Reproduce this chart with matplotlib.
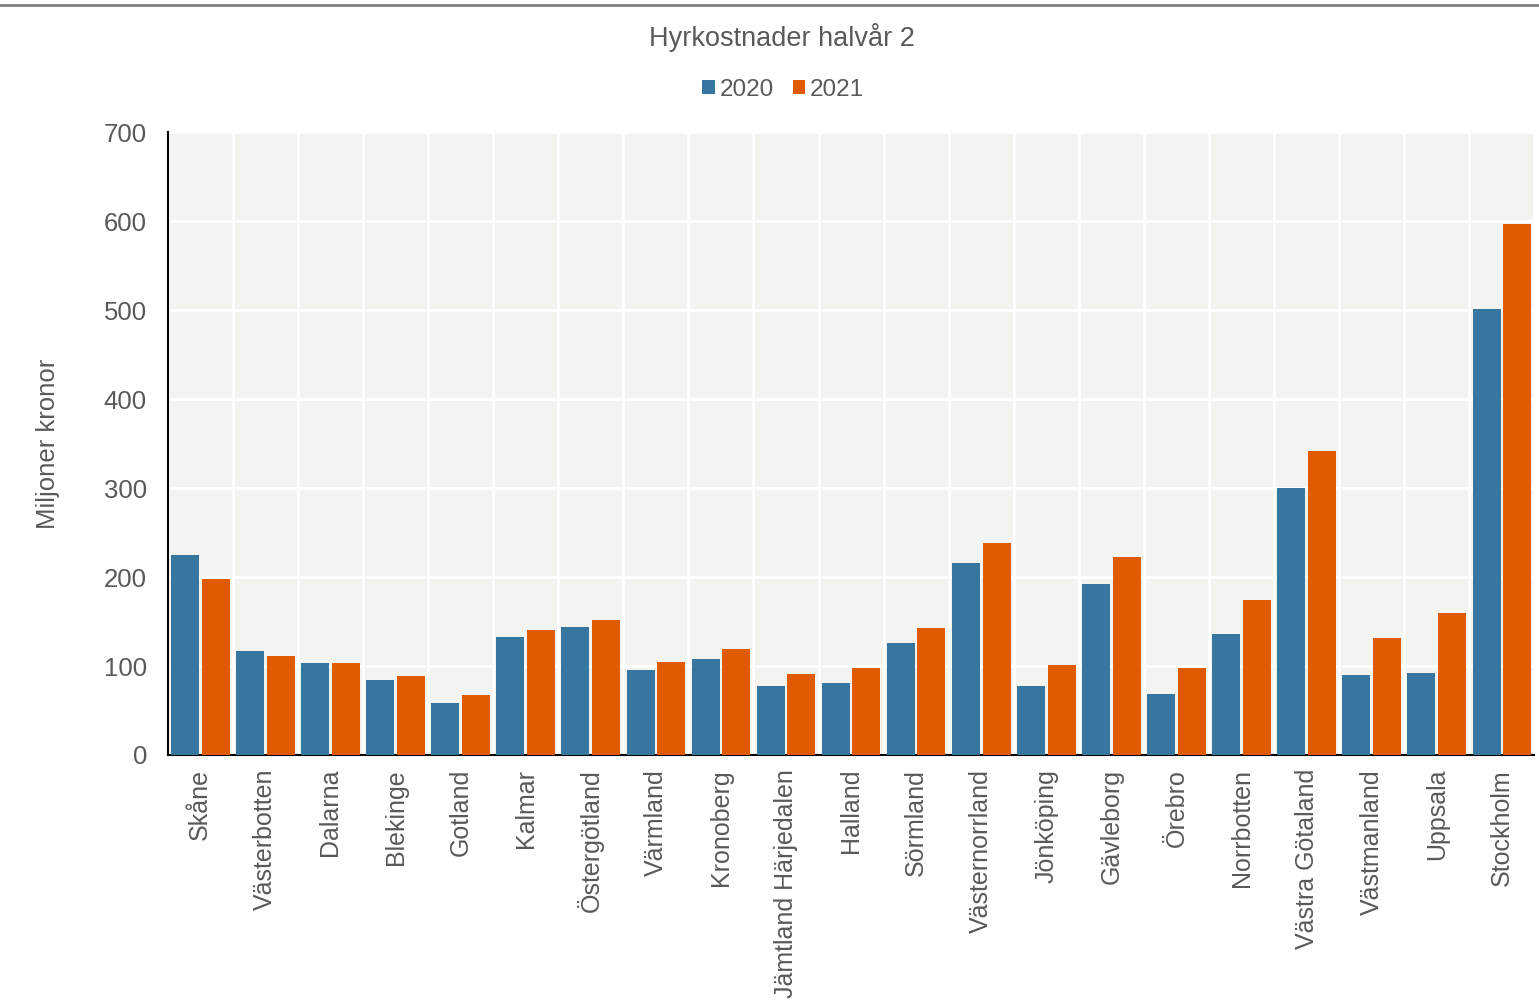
import matplotlib
matplotlib.use("Agg")
import matplotlib.pyplot as plt
from matplotlib.lines import Line2D
import numpy as np

plt.rcParams['font.family'] = ['Liberation Sans', 'DejaVu Sans']

# data (miljoner kronor)
regions = ['Skåne', 'Västerbotten', 'Dalarna', 'Blekinge', 'Gotland', 'Kalmar',
           'Östergötland', 'Värmland', 'Kronoberg', 'Jämtland Härjedalen', 'Halland',
           'Sörmland', 'Västernorrland', 'Jönköping', 'Gävleborg', 'Örebro',
           'Norrbotten', 'Västra Götaland', 'Västmanland', 'Uppsala', 'Stockholm']
values_2020 = [225, 117, 103, 84, 58, 133, 144, 96, 108, 78, 81, 126, 216, 78, 192,
               69, 136, 300, 90, 92, 501]
values_2021 = [198, 111, 103, 89, 67, 140, 152, 105, 119, 91, 98, 143, 238, 101, 222,
               98, 174, 342, 131, 160, 597]
yticks = [0, 100, 200, 300, 400, 500, 600, 700]

blue = '#37779f'
orange = '#df5a00'
grey_txt = '#595959'

fig = plt.figure(figsize=(15.39, 10.08), dpi=100)
ax = fig.add_axes([0.109, 0.251, 0.888, 0.618])
ax.set_facecolor('#f3f3ef')

x = np.arange(len(regions))
w = 0.43
ax.bar(x - 0.235, values_2020, width=w, color=blue, label='2020', zorder=3)
ax.bar(x + 0.235, values_2021, width=w, color=orange, label='2021', zorder=3)

ax.set_xlim(-0.5, len(regions) - 0.5)
ax.set_ylim(0, 700)
ax.set_yticks(yticks)
ax.set_yticklabels([str(t) for t in yticks], fontsize=18.5, color=grey_txt)
ax.set_xticks(x)
ax.set_xticklabels(regions, rotation=90, fontsize=18, color=grey_txt)
ax.tick_params(axis='x', length=0, pad=10)
ax.tick_params(axis='y', length=0, pad=15)

# grid: horizontal at ticks, vertical between categories
ax.set_xticks(np.arange(len(regions) + 1) - 0.5, minor=True)
ax.tick_params(which='minor', length=0)
ax.grid(axis='y', color='white', linewidth=2, zorder=0)
ax.grid(axis='x', which='minor', color='white', linewidth=2, zorder=0)
ax.grid(axis='x', which='major', visible=False)

for s in ['top', 'right']:
    ax.spines[s].set_visible(False)
ax.spines['left'].set_color('black')
ax.spines['bottom'].set_color('black')
ax.spines['left'].set_linewidth(1.5)
ax.spines['bottom'].set_linewidth(1.5)

ax.set_ylabel('Miljoner kronor', fontsize=18.5, color=grey_txt)
ax.yaxis.set_label_coords(-0.079, 0.5)

fig.text(0.508, 0.963, 'Hyrkostnader halvår 2', ha='center', va='center',
         fontsize=19.5, color=grey_txt)
leg = fig.legend(loc='center', bbox_to_anchor=(0.509, 0.911), ncol=2, frameon=False,
                 fontsize=17.5, handlelength=0.5, handleheight=0.5, handletextpad=0.2,
                 columnspacing=0.8)
for t in leg.get_texts():
    t.set_color(grey_txt)

# grey rule across the top
fig.add_artist(Line2D([0.0, 1.0], [0.995, 0.995], color='#808080', linewidth=2,
                      transform=fig.transFigure))

fig.savefig('out.png', dpi=100)
